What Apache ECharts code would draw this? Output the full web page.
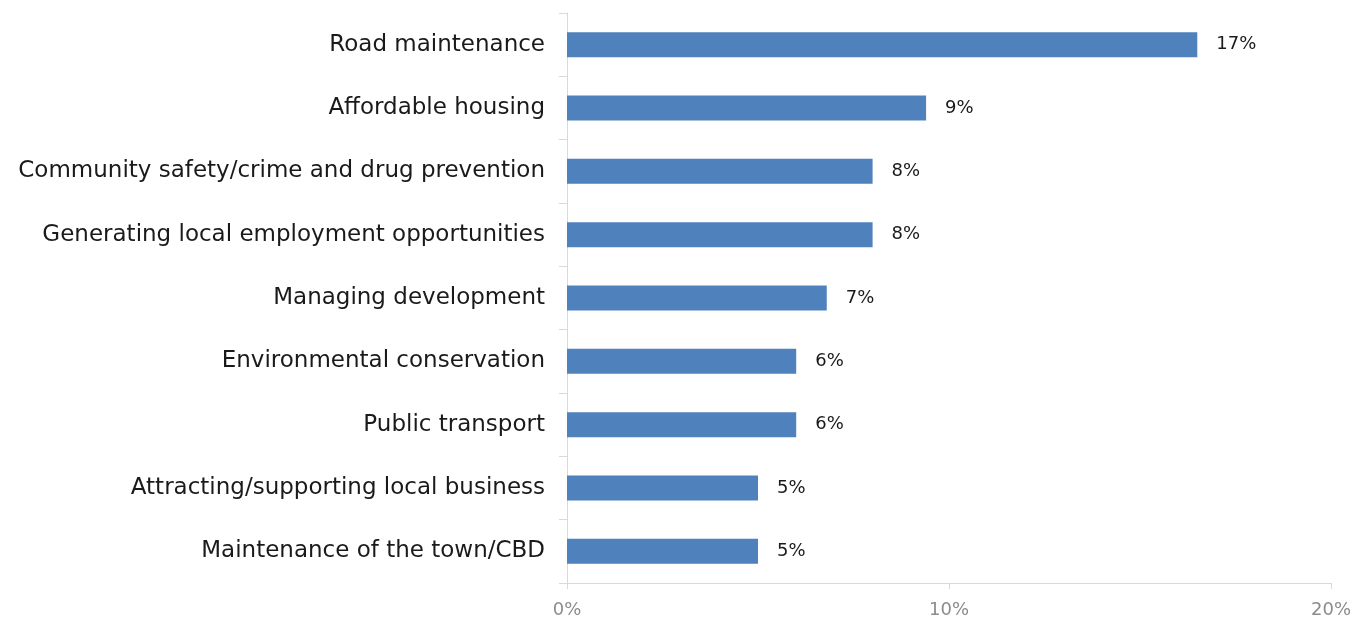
<!DOCTYPE html>
<html>
<head>
<meta charset="utf-8">
<script src="https://cdn.jsdelivr.net/npm/echarts@6/dist/echarts.min.js"></script>
<style>
  html, body { margin: 0; padding: 0; background: #fff; }
  #chart { width: 1356px; height: 621px; }
</style>
</head>
<body>
<div id="chart"></div>
<script>
// Share of residents naming each issue as the top priority (percent)
const categories = [
  'Road maintenance',
  'Affordable housing',
  'Community safety/crime and drug prevention',
  'Generating local employment opportunities',
  'Managing development',
  'Environmental conservation',
  'Public transport',
  'Attracting/supporting local business',
  'Maintenance of the town/CBD'
];
const shares = [16.5, 9.4, 8.0, 8.0, 6.8, 6.0, 6.0, 5.0, 5.0];
const xTicks = [0, 10, 20];

const FONT = 'DejaVu Sans';
const chart = echarts.init(document.getElementById('chart'));

chart.setOption({
  animation: false,
  grid: { left: 567, right: 25, top: 13, bottom: 38, containLabel: false },
  xAxis: {
    type: 'value',
    min: xTicks[0],
    max: xTicks[xTicks.length - 1],
    interval: xTicks[1] - xTicks[0],
    axisLine: { show: true, lineStyle: { color: '#d9d9d9', width: 1 } },
    axisTick: { show: true, length: 6, lineStyle: { color: '#d9d9d9' } },
    splitLine: { show: false },
    axisLabel: {
      formatter: v => v + '%',
      color: '#8c8c8c',
      fontFamily: FONT,
      fontSize: 18,
      margin: 18
    }
  },
  yAxis: {
    type: 'category',
    data: categories,
    inverse: true,
    axisLine: { show: true, lineStyle: { color: '#d9d9d9', width: 1 } },
    axisTick: { show: true, length: 8, lineStyle: { color: '#d9d9d9' } },
    axisLabel: {
      color: '#1a1a1a',
      fontFamily: FONT,
      fontSize: 23,
      margin: 22
    }
  },
  series: [{
    type: 'bar',
    data: shares,
    barWidth: 25,
    itemStyle: { color: '#4f81bd' },
    label: {
      show: true,
      position: 'right',
      distance: 19,
      formatter: p => Math.round(p.value) + '%',
      color: '#1a1a1a',
      fontFamily: FONT,
      fontSize: 18
    }
  }]
});
</script>
</body>
</html>
